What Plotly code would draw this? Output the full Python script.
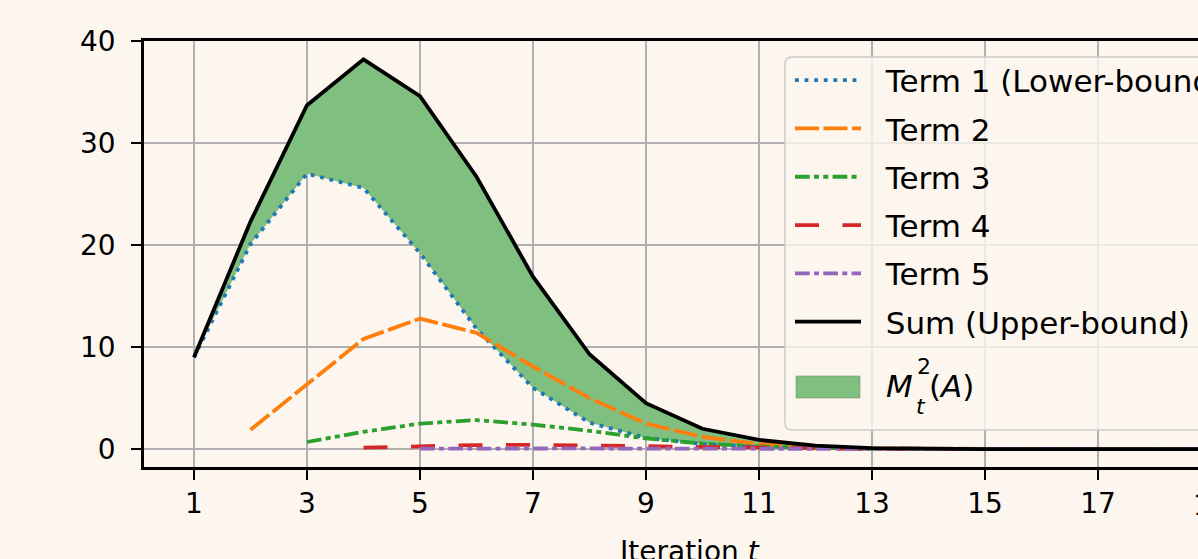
import plotly.graph_objects as go

# ---- data ----
iterations = list(range(1, 20))
term1 = [9.0, 20.1, 27.0, 25.6, 19.2, 11.8, 6.0, 2.6, 1.1, 0.5, 0.2, 0.08, 0.03, 0.01, 0.005, 0.0, 0.0, 0.0, 0.0]
term2 = [None, 1.9, 6.3, 10.8, 12.8, 11.4, 8.1, 5.0, 2.5, 1.2, 0.5, 0.2, 0.08, 0.03, 0.01, 0.0, 0.0, 0.0, 0.0]
term3 = [None, None, 0.7, 1.7, 2.5, 2.85, 2.4, 1.8, 1.05, 0.55, 0.25, 0.1, 0.04, 0.015, 0.005, 0.0, 0.0, 0.0, 0.0]
term4 = [None, None, None, 0.15, 0.28, 0.4, 0.42, 0.35, 0.25, 0.15, 0.08, 0.04, 0.02, 0.01, 0.0, 0.0, 0.0, 0.0, 0.0]
term5 = [None, None, None, None, 0.05, 0.08, 0.08, 0.07, 0.05, 0.04, 0.02, 0.01, 0.0, 0.0, 0.0, 0.0, 0.0, 0.0, 0.0]
total = [9.0, 22.3, 33.7, 38.2, 34.6, 26.7, 16.9, 9.3, 4.5, 2.0, 0.9, 0.35, 0.1, 0.03, 0.01, 0.0, 0.0, 0.0, 0.0]

names = ["Term 1 (Lower-bound)", "Term 2", "Term 3", "Term 4", "Term 5", "Sum (Upper-bound)"]
x_ticks = list(range(1, 20, 2))
y_ticks = [0, 10, 20, 30, 40]
x_title = "Iteration <i>t</i>"

# ---- styles ----
W, H = 1198, 559
ML, MT, MB = 144, 41, 92
PW, PH = W - ML, H - MT - MB
BG = "#fdf6ee"
FONT = "DejaVu Sans"
FILL = "rgb(127,191,127)"
colors = ["#1f77b4", "#ff7f0e", "#2ca02c", "#d62728", "#9467bd", "#000000"]
dashes = ["3.8px,5.8px", "24px,4.5px", "14.7px,4.3px,5px,4.3px,5px,4.3px",
          "24px,23.5px", "14.7px,4.3px,5px,4.3px", "solid"]
LW = 3.8
NB = "\u00a0\u00a0"


def px(x):
    return (x - ML) / PW


def py(y):
    return (MT + PH - y) / PH


fig = go.Figure()

# fill between Term 1 and Sum  (M_t^2(A))
fig.add_trace(go.Scatter(x=iterations, y=term1, mode="lines", line=dict(width=0),
                         showlegend=False, hoverinfo="skip"))
fig.add_trace(go.Scatter(x=iterations, y=total, mode="lines", line=dict(width=0),
                         fill="tonexty", fillcolor=FILL, showlegend=False,
                         name="M_t^2(A)"))

series = [term1, term2, term3, term4, term5, total]
for i, (nm, ys) in enumerate(zip(names, series)):
    fig.add_trace(go.Scatter(x=iterations, y=ys, mode="lines", name=NB + nm,
                             line=dict(color=colors[i], width=LW, dash=dashes[i]),
                             legendgroup=f"g{i+1}"))

axis_common = dict(showgrid=True, gridcolor="#b0b0b0", gridwidth=2,
                   showline=True, linecolor="black", linewidth=2.5,
                   ticks="outside", ticklen=10, tickwidth=2, tickcolor="black",
                   zeroline=False, tickfont=dict(family=FONT, size=28, color="black"))

# legend frame (rounded, semi-transparent)
x0, x1 = px(785), px(1260)
y0, y1 = py(430), py(57)
rx, ry = 7 / PW, 7 / PH
frame = (f"M{x0+rx},{y1} L{x1},{y1} L{x1},{y0} L{x0+rx},{y0} "
         f"Q{x0},{y0} {x0},{y0+ry} L{x0},{y1-ry} Q{x0},{y1} {x0+rx},{y1} Z")
shapes = [
    dict(type="path", xref="paper", yref="paper", path=frame, layer="above",
         fillcolor="rgba(253,246,238,0.8)", line=dict(color="#cccccc", width=1.5)),
    dict(type="rect", xref="paper", yref="paper", layer="above",
         x0=px(796), x1=px(860), y0=py(398), y1=py(376),
         fillcolor=FILL, line=dict(color="rgba(120,150,110,0.6)", width=1)),
]

# legend label for the filled area: M_t^2(A) with stacked sub/superscript,
# the x-axis title and the partly visible last tick label
ann = [
    dict(text="<i>M</i>", x=px(884), y=py(386), size=31, xa="left"),
    dict(text="2", x=px(915), y=py(366), size=22, xa="left"),
    dict(text="<i>t</i>", x=px(914), y=py(406), size=22, xa="left"),
    dict(text="(<i>A</i>)", x=px(927), y=py(386), size=31, xa="left"),
    dict(text=x_title, x=px(690), y=py(551), size=28, xa="center"),
    dict(text="19", x=px(1211), y=py(505), size=28, xa="center"),
]
annotations = [dict(text=a["text"], x=a["x"], y=a["y"], xref="paper", yref="paper",
                    xanchor=a["xa"], yanchor="middle", showarrow=False,
                    font=dict(family=FONT, size=a["size"], color="black"))
               for a in ann]

fig.update_layout(
    width=W, height=H, autosize=False,
    margin=dict(l=ML, r=0, t=MT, b=MB, autoexpand=False),
    paper_bgcolor=BG, plot_bgcolor=BG,
    font=dict(family=FONT, size=28, color="black"),
    xaxis=dict(range=[0.115, 18.77], tickvals=x_ticks, mirror=True,
               automargin=False, **axis_common),
    yaxis=dict(range=[-1.75, 40.0], tickvals=y_ticks, mirror=False,
               ticklabelstandoff=10, automargin=False, **axis_common),
    legend=dict(x=px(790), y=py(53.5), xanchor="left", yanchor="top",
                bgcolor="rgba(0,0,0,0)", borderwidth=0,
                font=dict(family=FONT, size=31, color="black"),
                itemwidth=66, traceorder="grouped", tracegroupgap=5),
    showlegend=True,
    shapes=shapes,
    annotations=annotations,
)

fig.write_html("out.html",
               config={"displayModeBar": False},
               post_script="document.body.style.margin='0';"
                           "document.body.style.overflow='hidden';"
                           "document.body.style.background='#fdf6ee';")
